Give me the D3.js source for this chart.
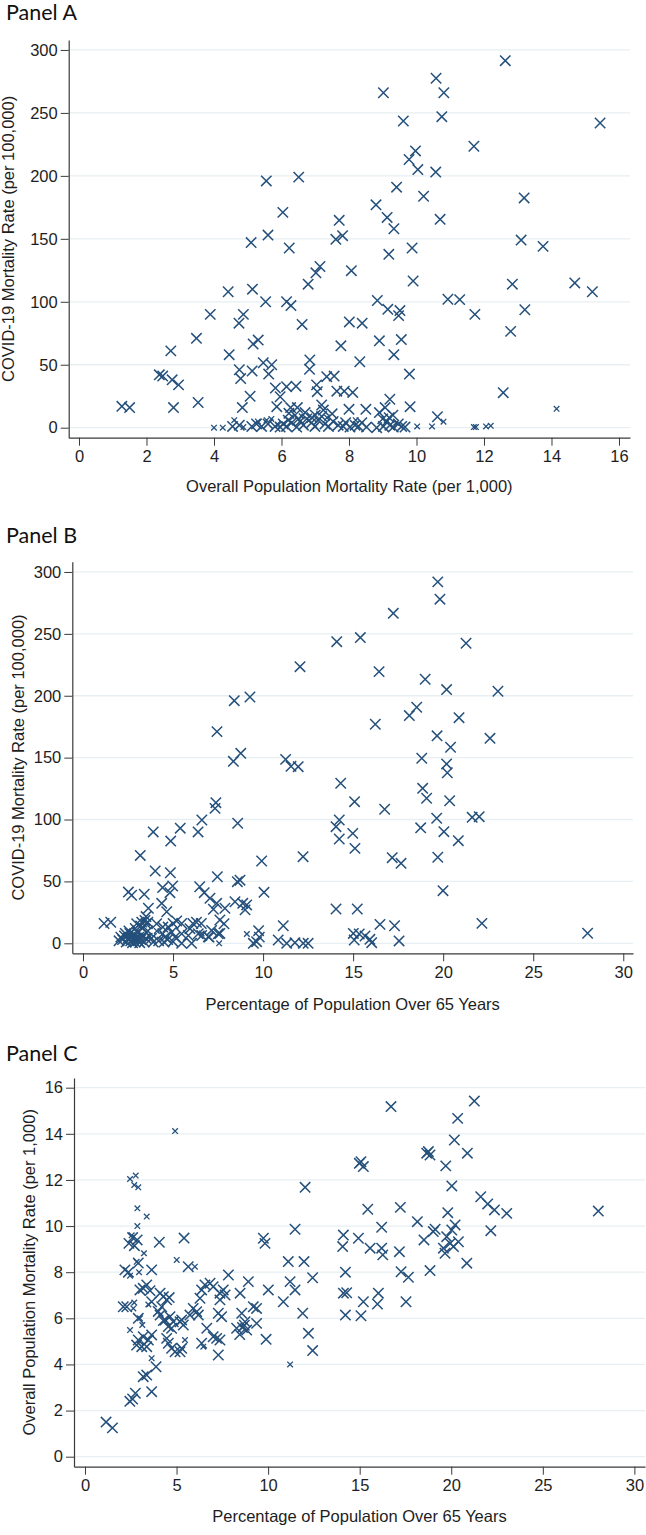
<!DOCTYPE html>
<html><head><meta charset="utf-8">
<script src="https://cdn.jsdelivr.net/npm/d3@7"></script>
<style>body{margin:0;background:#fff}svg{display:block}</style>
</head><body>
<script>
// ---------------- DATA ----------------
// Panel A: x = overall population mortality rate (per 1,000), y = COVID-19 mortality (per 100,000)
const panelA_large = [
[1.27,17],[1.5,16],[2.72,61],[2.38,42],[2.48,41],[2.76,38],[2.95,34],[2.8,16],[3.48,71],[3.53,20],
[3.89,90],[4.42,108],[4.45,58],[4.74,83],[4.87,90],[4.75,46],[4.79,39],[4.84,16],[5.1,147],[5.14,110],
[5.13,45],[5.07,25],[5.16,66.5],[5.31,69.6],[5.55,196],[5.6,153],[5.53,100],[5.46,51.6],[5.71,50],[5.62,42.6],
[5.82,31.5],[5.86,16.7],[6.04,171],[6.23,142.7],[6.15,100],[6.28,97],[6.51,199],[6.61,82],[6.79,114],[7.02,123],
[7.14,128],[6.84,53.8],[6.83,46.4],[5.96,24.6],[6.15,32.6],[6.43,33],[6.27,16],[6.47,16],[6.22,11.4],[7.04,34],
[7.06,28.6],[7.34,40.5],[7.56,41],[7.19,18],[7.24,14],[7.64,29],[7.86,29],[8.11,28],
[12.63,291.5],[10.58,277.5],[9.02,266],[10.81,266],[9.61,243.6],[10.75,247],[15.44,242],[11.7,223.5],[9.97,219.8],[9.78,213],
[10.04,205],[10.57,203],[9.41,191],[10.21,183.8],[13.19,182.5],[8.8,177],[9.13,167],[9.33,158],[10.7,165.5],[7.71,164.7],
[7.61,149.6],[7.81,152.5],[13.1,149],[13.75,144],[9.87,142.7],[9.18,137.7],[8.07,124.7],[9.9,116.5],[12.84,114],[14.69,115],
[15.21,108],[10.93,102],[11.28,101.7],[8.84,101],[9.15,94],[9.51,93],[9.47,89],[13.21,93.7],[11.73,90],[8.01,84],
[8.39,83],[12.79,76.5],[8.9,69],[9.55,70],[7.76,65],[9.33,58],[8.32,52.4],[9.79,42.6],[12.57,27.8],[9.81,16.7],
[9.21,22.6],[8.5,14.6],[8.0,14.6],[9.07,16],[10.62,8.7],[9.19,8],
[4.55,1],[4.75,2],[5.12,1],[5.26,3],[5.41,1],[5.81,1],[5.96,0.5],[6.05,3],[6.15,1],[6.3,4],
[6.45,0.5],[6.55,5],[6.65,2],[6.75,7],[6.89,4],[6.99,1],[7.09,6],[7.19,9],[7.29,3],[7.39,1],
[7.53,5],[7.68,2],[7.83,1],[8.03,0.5],[8.18,2],[8.28,1],[8.38,4],[8.52,0.5],[8.82,0],[9.02,1],
[9.12,5],[9.21,2],[9.31,0.5],[9.46,3],[9.56,1],[9.66,0.5],[6.4,10],[6.7,12],[7.0,10],[7.5,11],
[6.9,8],[6.2,6],[5.6,3],[8.9,12],[9.3,10],[9.0,7],[7.9,4],[6.5,7]
];
const panelA_small = [
[14.15,15],[10.8,4.8],[10.02,1],[10.46,1],[11.7,0.5],[11.76,0.5],[12.06,1],[12.2,1.5],[4.0,0],[4.26,0],
[4.87,0.5],[4.6,6],[5.3,5],[5.56,6],[5.7,7],[6.6,9],[7.35,8],[8.2,6],[9.4,4],[7.0,1],[5.9,2]
];

// Panel B: x = percentage of population over 65, y = COVID-19 mortality (per 100,000)
const panelB_large = [
[12.05,223.5],[8.4,196],[9.27,199],[7.44,171],[8.35,147],[8.76,153.5],[11.25,148.6],[11.55,143],[11.95,142.7],[7.38,113.6],
[7.33,109],[6.6,99.6],[8.59,97],[3.9,90],[5.4,93],[6.39,90],[4.87,82.6],[3.18,71],[12.22,70],[9.92,66.5],
[4.01,58.4],[4.85,57],[7.46,53.8],[8.72,51],[8.57,49.8],[2.52,41.4],[2.7,38.8],[3.4,39.6],[4.42,45],[4.98,46.3],
[4.83,40.9],[6.48,45.7],[6.73,40.9],[10.05,41.2],[7.05,36.4],[7.42,32.3],[7.24,27.5],[7.88,28.3],[8.44,33.6],[8.87,32.3],
[9.09,31],[9.0,27],[4.37,32.3],[4.65,25.5],[3.63,28.3],[3.5,21.6],[3.6,17],[7.6,18.8],[7.6,8],[9.75,10.2],
[9.46,0],[9.64,1.3],[11.12,14.2],[10.84,2.7],[11.31,0],[11.77,0.5],[12.23,0],[12.5,0],[1.17,16],[1.54,17],
[6.1,16],[6.3,17],[6.57,16],[6.96,5.3],[5.48,16],[5.2,18],[5.0,16],[6.03,0],[5.48,0],[5.0,1.3],
[3.44,18.5],[3.5,15.8],[2.98,15.8],[3.26,17.1],[4.09,15.8],[4.43,13.1],[4.73,13.1],[5.94,11.8],[6.4,7.7],[7.14,10.4],
[7.51,7.7],[7.83,15.8],[6.59,6.3],[7.0,5],[4.43,7.7],[4.55,5],[4.92,9],[5.11,5],[5.48,7.7],[5.85,6.3],
[9.79,5],[4.2,2],[4.5,1],[4.7,3],[3.8,4],[3.9,1],[3.6,10],[3.3,12],
[2.2,3],[2.3,6],[2.4,1],[2.5,4],[2.6,8],[2.65,2],[2.7,5],[2.75,0.5],[2.8,3],[2.85,7],
[2.9,1],[2.95,4],[3.0,9],[3.05,2],[3.1,5],[3.15,0.5],[3.2,3],[3.3,6],[3.4,1],[3.5,4],
[2.55,10],[2.9,12],[3.2,14],[2.35,8],[2.0,2],[2.1,5],
[19.7,292],[19.82,278],[17.23,266.6],[14.09,243.7],[15.4,247],[21.27,242.4],[16.44,219.5],[19.0,213.3],[20.19,205],[23.04,203.6],
[18.53,190.7],[18.12,184],[20.88,182.3],[16.23,177],[19.66,167.6],[22.6,165.6],[20.41,158.4],[18.81,149.5],[20.19,144.9],[20.23,137.8],
[14.31,129.3],[18.86,125.2],[19.08,117.2],[15.08,114.4],[20.36,115.2],[16.75,108.3],[19.64,101],[21.61,101.8],[22.0,102.3],[14.23,99.6],
[14.05,94.2],[14.98,88.8],[18.75,93.3],[20.04,90.2],[14.23,84.3],[20.84,82.9],[15.1,76.7],[17.17,69.2],[17.66,64.6],[19.7,69.5],
[19.99,42.5],[14.05,27.7],[15.23,27.7],[16.49,15.3],[17.3,14.2],[22.15,16.1],[28.02,8.1],[15.01,8],[15.34,7.5],[15.66,5.9],
[15.93,3.2],[16.03,0.5],[17.55,1.9],[15.06,2.7]
];
const panelB_small = [
[7.56,0],[6.59,8],[3.7,6],[2.4,6],[9.1,7.5],[4.1,10]
];

// Panel C: x = percentage of population over 65, y = overall population mortality rate (per 1,000)
const panelC_large = [
[1.15,1.5],[1.5,1.25],[2.45,2.4],[2.6,2.5],[2.75,2.75],[3.18,3.47],[3.37,3.54],[3.64,2.82],[3.88,3.9],[4.06,9.3],
[5.41,9.48],[3.64,8.1],[5.64,8.24],[2.18,8.1],[2.37,8.0],[2.91,8.4],[3.0,7.23],[3.18,7.3],[3.37,7.45],[3.55,7.2],
[3.64,6.72],[2.09,6.5],[2.28,6.5],[2.91,6.0],[2.91,5.06],[3.18,5.2],[3.46,5.06],[3.64,5.28],[2.82,4.84],[3.1,4.77],
[3.37,4.77],[2.4,9.25],[2.6,9.5],[2.85,9.4],[2.7,9.15],
[4.1,7.09],[4.28,6.94],[4.46,6.8],[4.19,6.5],[4.1,6.14],[4.37,5.93],[4.55,5.64],[4.73,5.57],[4.28,5.9],[4.64,6.07],
[4.82,5.85],[4.46,5.13],[4.55,4.92],[4.73,4.7],[4.92,4.55],[5.19,4.55],[5.28,4.7],[5.19,5.85],[5.37,5.71],[5.28,5.93],
[4.6,6.9],[4.0,6.3],
[5.91,6.43],[6.1,6.29],[6.19,6.14],[6.37,7.23],[6.55,7.45],[6.28,6.87],[6.83,7.52],[7.0,7.37],[7.83,7.88],[7.37,7.09],
[7.55,7.23],[7.65,7.01],[7.37,6.8],[7.28,6.22],[7.46,6.07],[6.65,5.57],[6.37,4.92],[7.0,5.2],[7.19,5.13],[7.37,5.06],
[7.28,4.41],[5.73,6.14],
[8.47,7.09],[8.92,7.59],[8.28,5.57],[8.56,6.22],[8.74,5.85],[8.83,5.49],[8.6,5.6],[8.45,5.3],[8.7,5.7],[9.19,6.5],
[9.37,6.43],[9.37,5.78],[9.74,9.47],[9.83,9.25],[10.01,7.23],[9.89,5.09],
[10.83,6.72],[11.1,8.46],[11.2,7.59],[11.47,7.23],[11.47,9.86],[12.02,11.68],[11.96,8.46],[11.89,6.22],[12.43,7.76],[12.2,5.35],
[12.43,4.6],
[16.71,15.18],[21.26,15.42],[20.35,14.67],[20.17,13.73],[20.88,13.16],[15.07,12.79],[15.2,12.58],[14.98,12.72],[18.66,13.16],[18.84,13.08],
[18.75,13.23],[19.7,12.61],[20.03,11.74],[21.61,11.27],[21.99,10.96],[22.36,10.7],[23.03,10.55],[28.03,10.65],[15.44,10.73],[17.22,10.81],
[19.81,10.58],[18.15,10.19],[16.2,9.95],[20.21,10.05],[20.03,9.83],[19.12,9.86],[19.02,9.76],[22.16,9.8],[14.11,9.61],[14.07,9.11],
[14.93,9.47],[18.51,9.4],[19.75,9.54],[19.94,9.25],[20.12,9.11],[20.39,9.32],[19.57,9.04],[19.66,8.82],[15.57,9.04],[16.2,9.04],
[16.26,8.75],[17.17,8.89],[20.85,8.39],[14.22,8.0],[17.26,8.02],[17.66,7.78],[18.84,8.07],[14.11,7.09],[14.29,7.11],[15.2,6.72],
[16.02,7.09],[15.97,6.62],[17.53,6.72],[14.22,6.14],[15.07,6.11]
];
const panelC_small = [
[4.92,14.12],[2.46,12.04],[2.77,12.19],[2.69,11.78],[2.91,11.68],[2.86,10.77],[3.37,10.41],[2.86,10.0],[2.55,9.6],[3.22,8.82],
[5.01,8.53],[6.0,8.24],[2.95,8.0],[2.46,7.85],[3.46,6.6],[2.64,6.43],[2.69,6.68],[3.13,5.71],[2.46,5.49],[3.64,4.27],
[11.2,4.0],[6.46,4.77],[5.46,5.06],[2.82,8.45],[3.0,6.0]
];

const ticksCovid = [0,50,100,150,200,250,300];
const ticksOverall = [0,2,4,6,8,10,12,14,16];
const ticksAgeX = [0,5,10,15,20,25,30];

const panels = [
  {title:"Panel A", xLabel:"Overall Population Mortality Rate (per 1,000)", yLabel:"COVID-19 Mortality Rate (per 100,000)",
   large:panelA_large, small:panelA_small, xTicks:ticksOverall, yTicks:ticksCovid,
   xd:[-0.305,16.326], yd:[-7.94,307.9], l:68.7, r:630, t:40, b:437.7, titleY:20, xLabY:492, yLabX:8},
  {title:"Panel B", xLabel:"Percentage of Population Over 65 Years", yLabel:"COVID-19 Mortality Rate (per 100,000)",
   large:panelB_large, small:panelB_small, xTicks:ticksAgeX, yTicks:ticksCovid,
   xd:[-0.594,30.54], yd:[-8.08,308.3], l:72.3, r:633, t:561.7, b:953.3, titleY:543, xLabY:1010, yLabX:18},
  {title:"Panel C", xLabel:"Percentage of Population Over 65 Years", yLabel:"Overall Population Mortality Rate (per 1,000)",
   large:panelC_large, small:panelC_small, xTicks:ticksAgeX, yTicks:ticksOverall,
   xd:[-0.6,30.58], yd:[-0.434,16.42], l:74, r:645, t:1078, b:1466.7, titleY:1061, xLabY:1522, yLabX:29}
];

// ---------------- DRAW ----------------
const W=646, H=1535;
const markColor="#24507b", textColor="#1e1e1e", gridColor="#e7eff2", axisColor="#3a3a3a";
const FONT="'Liberation Sans', Arial, sans-serif";
const svg=d3.select("body").append("svg").attr("width",W).attr("height",H);

function xPath(s){return `M${-s},${-s}L${s},${s}M${-s},${s}L${s},${-s}`;}

panels.forEach(p=>{
  const x=d3.scaleLinear().domain(p.xd).range([p.l,p.r]);
  const y=d3.scaleLinear().domain(p.yd).range([p.b,p.t]);
  const g=svg.append("g");

  g.append("text").attr("x",6).attr("y",p.titleY).text(p.title)
   .attr("font-family","Lato, 'Open Sans', sans-serif").attr("font-size",21.5).attr("fill","#111");

  g.append("g").selectAll("line").data(p.yTicks).join("line")
   .attr("x1",p.l).attr("x2",p.r).attr("y1",d=>y(d)).attr("y2",d=>y(d))
   .attr("stroke",gridColor).attr("stroke-width",1.3);

  const ax=g.append("g").attr("transform",`translate(0,${p.b})`)
   .call(d3.axisBottom(x).tickValues(p.xTicks).tickSize(8).tickSizeOuter(0).tickPadding(5).tickFormat(d3.format("d")));
  const ay=g.append("g").attr("transform",`translate(${p.l},0)`)
   .call(d3.axisLeft(y).tickValues(p.yTicks).tickSize(8).tickSizeOuter(0).tickPadding(3).tickFormat(d3.format("d")));
  [ax,ay].forEach(a=>{
    a.selectAll("path.domain").attr("stroke",axisColor).attr("stroke-width",1.2);
    a.selectAll(".tick line").attr("stroke",axisColor).attr("stroke-width",1);
    a.selectAll(".tick text").attr("font-family",FONT).attr("font-size",16.5).attr("fill",textColor);
  });

  g.append("text").attr("x",(p.l+p.r)/2).attr("y",p.xLabY).attr("text-anchor","middle")
   .attr("font-family",FONT).attr("font-size",16.5).attr("fill",textColor).text(p.xLabel);
  g.append("text").attr("transform",`translate(${p.yLabX},${(p.t+p.b)/2}) rotate(-90)`).attr("text-anchor","middle").attr("dy","0.35em")
   .attr("font-family",FONT).attr("font-size",16.5).attr("fill",textColor).text(p.yLabel);

  g.append("g").selectAll("path").data(p.large).join("path")
   .attr("transform",d=>`translate(${x(d[0])},${y(d[1])})`).attr("d",xPath(5.2))
   .attr("fill","none").attr("stroke",markColor).attr("stroke-width",1.5);
  g.append("g").selectAll("path").data(p.small).join("path")
   .attr("transform",d=>`translate(${x(d[0])},${y(d[1])})`).attr("d",xPath(2.8))
   .attr("fill","none").attr("stroke",markColor).attr("stroke-width",1.3);
});
</script>
</body></html>
